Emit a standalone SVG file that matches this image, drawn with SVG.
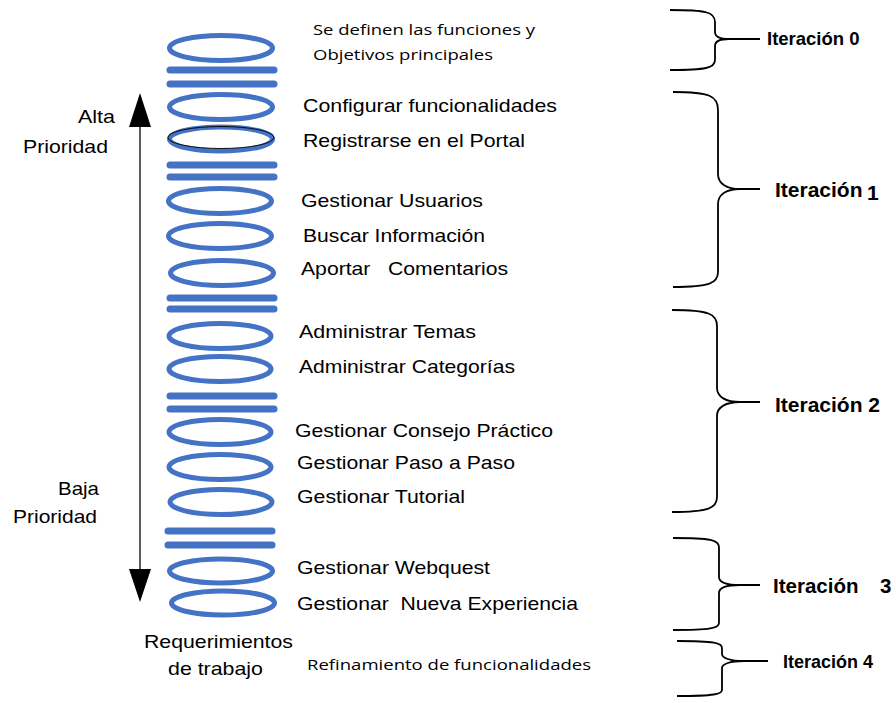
<svg xmlns="http://www.w3.org/2000/svg" width="896" height="703" viewBox="0 0 896 703">
  <defs>
    <style>
      .ring { fill: none; stroke: #4472C4; stroke-width: 5; }
      .bar { stroke: #4472C4; stroke-width: 7; stroke-linecap: round; }
      .lbl { font-family: "Liberation Sans", Arial, sans-serif; font-size: 18.5px; fill: #000; white-space: pre; }
      .cal { font-family: "Open Sans", "Noto Sans", sans-serif; font-size: 15px; fill: #000; white-space: pre; }
      .it { font-family: "Liberation Sans", Arial, sans-serif; font-weight: bold; fill: #000; white-space: pre; }
      .brace { fill: none; stroke: #000; stroke-width: 1.8; }
    </style>
  </defs>
  <rect width="896" height="703" fill="#fff"/>

  <!-- stack of requirement rings and separator bars -->
  <g id="stack">
    <g id="sep-0"><line class="bar" x1="170" y1="70" x2="274" y2="70"/><line class="bar" x1="170" y1="84" x2="274" y2="84"/></g>
    <g id="sep-1"><line class="bar" x1="170" y1="165" x2="274" y2="165"/><line class="bar" x1="170" y1="177" x2="274" y2="177"/></g>
    <g id="sep-2"><line class="bar" x1="170" y1="298" x2="274" y2="298"/><line class="bar" x1="170" y1="309" x2="274" y2="309"/></g>
    <g id="sep-3"><line class="bar" x1="170" y1="396" x2="274" y2="396"/><line class="bar" x1="170" y1="409" x2="274" y2="409"/></g>
    <g id="sep-4"><line class="bar" x1="168" y1="531" x2="272" y2="531"/><line class="bar" x1="168" y1="545" x2="272" y2="545"/></g>
  </g>

  <g id="req-objetivos">
    <ellipse class="ring" cx="221" cy="48" rx="51.5" ry="12.5"/>
    <text class="cal" x="313" y="35" textLength="222" lengthAdjust="spacingAndGlyphs">Se definen las funciones y</text>
    <text class="cal" x="313" y="60" textLength="180" lengthAdjust="spacingAndGlyphs">Objetivos principales</text>
  </g>
  <g id="req-configurar">
    <ellipse class="ring" cx="221" cy="107" rx="51.5" ry="12.5"/>
    <text class="lbl" x="303" y="112" textLength="254" lengthAdjust="spacingAndGlyphs">Configurar funcionalidades</text>
  </g>
  <g id="req-registrarse">
    <ellipse class="ring" cx="221" cy="139" rx="51.5" ry="12"/>
    <ellipse cx="221" cy="137.5" rx="53" ry="11" fill="none" stroke="#000" stroke-width="0.9"/>
    <text class="lbl" x="303" y="147" textLength="222" lengthAdjust="spacingAndGlyphs">Registrarse en el Portal</text>
  </g>
  <g id="req-usuarios">
    <ellipse class="ring" cx="220" cy="201" rx="51.5" ry="12.5"/>
    <text class="lbl" x="301" y="207" textLength="182" lengthAdjust="spacingAndGlyphs">Gestionar Usuarios</text>
  </g>
  <g id="req-buscar">
    <ellipse class="ring" cx="220" cy="236" rx="51.5" ry="12.5"/>
    <text class="lbl" x="303" y="242" textLength="182" lengthAdjust="spacingAndGlyphs">Buscar Información</text>
  </g>
  <g id="req-aportar">
    <ellipse class="ring" cx="222" cy="273" rx="51.5" ry="12.5"/>
    <text class="lbl" x="301" y="275" textLength="207" lengthAdjust="spacingAndGlyphs">Aportar   Comentarios</text>
  </g>
  <g id="req-temas">
    <ellipse class="ring" cx="220" cy="336" rx="51" ry="12.5"/>
    <text class="lbl" x="299" y="338" textLength="177" lengthAdjust="spacingAndGlyphs">Administrar Temas</text>
  </g>
  <g id="req-categorias">
    <ellipse class="ring" cx="220" cy="369" rx="51" ry="12.5"/>
    <text class="lbl" x="299" y="373" textLength="216" lengthAdjust="spacingAndGlyphs">Administrar Categorías</text>
  </g>
  <g id="req-consejo">
    <ellipse class="ring" cx="220" cy="432" rx="51" ry="12.5"/>
    <text class="lbl" x="295" y="437" textLength="258" lengthAdjust="spacingAndGlyphs">Gestionar Consejo Práctico</text>
  </g>
  <g id="req-paso">
    <ellipse class="ring" cx="220" cy="467" rx="51" ry="12.5"/>
    <text class="lbl" x="297" y="469" textLength="218" lengthAdjust="spacingAndGlyphs">Gestionar Paso a Paso</text>
  </g>
  <g id="req-tutorial">
    <ellipse class="ring" cx="221" cy="502" rx="51" ry="12.5"/>
    <text class="lbl" x="297" y="503" textLength="168" lengthAdjust="spacingAndGlyphs">Gestionar Tutorial</text>
  </g>
  <g id="req-webquest">
    <ellipse class="ring" cx="221" cy="571" rx="51.5" ry="12"/>
    <text class="lbl" x="297" y="574" textLength="193" lengthAdjust="spacingAndGlyphs">Gestionar Webquest</text>
  </g>
  <g id="req-experiencia">
    <ellipse class="ring" cx="223" cy="603" rx="51.5" ry="12"/>
    <text class="lbl" x="297" y="610" textLength="281" lengthAdjust="spacingAndGlyphs">Gestionar  Nueva Experiencia</text>
  </g>

  <g id="req-footer">
    <text class="lbl" x="144" y="648" textLength="149" lengthAdjust="spacingAndGlyphs">Requerimientos</text>
    <text class="lbl" x="168" y="675" textLength="95" lengthAdjust="spacingAndGlyphs">de trabajo</text>
    <text class="cal" x="307" y="670" textLength="284" lengthAdjust="spacingAndGlyphs">Refinamiento de funcionalidades</text>
  </g>

  <!-- priority axis -->
  <g id="priority">
    <text class="lbl" x="78" y="123" textLength="37" lengthAdjust="spacingAndGlyphs">Alta</text>
    <text class="lbl" x="23" y="153" textLength="85" lengthAdjust="spacingAndGlyphs">Prioridad</text>
    <text class="lbl" x="58" y="495" textLength="41" lengthAdjust="spacingAndGlyphs">Baja</text>
    <text class="lbl" x="13" y="523" textLength="84" lengthAdjust="spacingAndGlyphs">Prioridad</text>
  </g>

  <g id="connectors">
    <line x1="140" y1="126" x2="140" y2="570" stroke="#333" stroke-width="1.6"/>
    <polygon points="140,93 129,127 151,127" fill="#000"/>
    <polygon points="140,602 129,569 151,569" fill="#000"/>

    <!-- braces grouping the iterations -->
    <path class="brace" d="M670,10 C706,10 715,12 715,22 L715,32 C715,37 720,39 729,39 L760,39 M729,39 C720,39 715,41 715,46 L715,60 C715,68 706,70 670,70"/>
    <path class="brace" d="M673,92 C710,92 718,96 718,110 L718,174 C718,184 727,189 740,189 L760,189 M740,189 C727,189 718,194 718,204 L718,272 C718,283 710,287 673,287"/>
    <path class="brace" d="M672,310 C709,310 717,314 717,326 L717,388 C717,397 726,402 740,402 L760,402 M740,402 C726,402 717,407 717,416 L717,497 C717,508 709,512 672,512"/>
    <path class="brace" d="M673,538 C711,538 719,540 719,547 L719,577 C719,582 726,585 740,585 L760,585 M740,585 C726,585 719,588 719,593 L719,623 C719,628 711,630 673,630"/>
    <path class="brace" d="M677,641 C715,641 722,643 722,648 L722,654 C722,658 730,661 744,661 L768,661 M744,661 C730,661 722,664 722,668 L722,690 C722,694 715,696 677,696"/>
  </g>

  <g id="iteraciones">
    <text class="it" x="767" y="45" font-size="18.5">Iteración 0</text>
    <text class="it" x="775" y="197" font-size="21">Iteración</text>
    <text class="it" x="867" y="200" font-size="21">1</text>
    <text class="it" x="775" y="412" font-size="21">Iteración 2</text>
    <text class="it" x="773" y="593" font-size="20.5">Iteración</text>
    <text class="it" x="880" y="593" font-size="20.5">3</text>
    <text class="it" x="783" y="668" font-size="18">Iteración 4</text>
  </g>
</svg>
